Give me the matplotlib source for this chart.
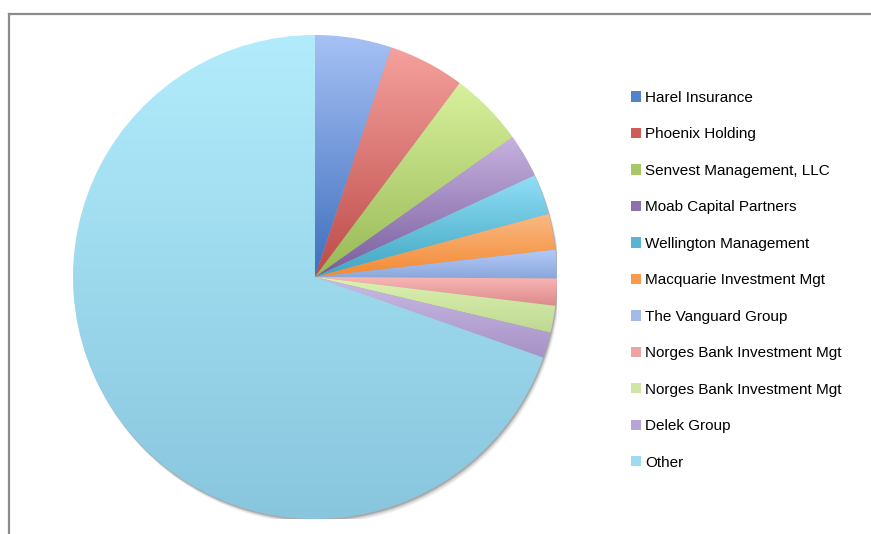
import numpy as np
import matplotlib
matplotlib.use("Agg")
import matplotlib.pyplot as plt
from matplotlib.patches import Patch, Circle
from matplotlib.colors import to_rgb

plt.rcParams['font.family'] = ['Liberation Sans', 'DejaVu Sans']

labels = ["Harel Insurance", "Phoenix Holding", "Senvest Management, LLC",
          "Moab Capital Partners", "Wellington Management", "Macquarie Investment Mgt",
          "The Vanguard Group", "Norges Bank Investment Mgt", "Norges Bank Investment Mgt",
          "Delek Group", "Other"]
values = [5.1, 5.1, 5.0, 2.9, 2.7, 2.4, 1.9, 1.8, 1.8, 1.7, 69.6]

top_colors = ["#a6c1f5", "#f5a19d", "#d8f09c", "#c6b2e0", "#92def6", "#fbba84",
              "#b2caf8", "#f8b6b4", "#dcf2b0", "#cabae4", "#b2ecfc"]
bot_colors = ["#3f6fbd", "#bd4b48", "#97b955", "#785c9c", "#3fa6c2", "#f28a34",
              "#8aa6da", "#dc8a8a", "#bed893", "#a692c6", "#88c6de"]
legend_colors = ["#5282c8", "#cf5c58", "#a6c868", "#8d70ae", "#56b6d0", "#f89a50",
                 "#a2bbe8", "#eda3a3", "#cfe6a4", "#b7a6d5", "#9edbee"]

fig = plt.figure(figsize=(8.71, 5.34), dpi=100)
W, H = 871, 534

# chart frame lines (top and left)
fig.add_artist(plt.Line2D([8.5 / W, 1], [1 - 13.5 / H, 1 - 13.5 / H], color="#8c8c8c", lw=1.6))
fig.add_artist(plt.Line2D([8.5 / W, 8.5 / W], [0, 1 - 13.5 / H], color="#8c8c8c", lw=1.6))

cx, cy, r = 315, 277, 242
ax = fig.add_axes([(cx - r) / W, (H - cy - r) / H, 2 * r / W, 2 * r / H])
ax.set_xlim(-1, 1)
ax.set_ylim(-1, 1)
ax.axis("off")

# soft shadow
for off, a in [(0.020, 0.08), (0.015, 0.12), (0.010, 0.18), (0.006, 0.25)]:
    ax.add_patch(Circle((off * 0.6, -off), 1.0, color="#555555", alpha=a, lw=0, zorder=0))

wedges, _ = ax.pie(values, startangle=90, counterclock=False, radius=1,
                   wedgeprops=dict(linewidth=0))
for w, ct, cb in zip(wedges, top_colors, bot_colors):
    w.set_facecolor("none")
    w.set_zorder(1)
    verts = w.get_patch_transform().transform(w.get_path().vertices)
    x0, y0 = verts.min(axis=0)
    x1, y1 = verts.max(axis=0)
    t = np.linspace(0, 1, 256)[:, None, None]
    img = (1 - t) * np.array(to_rgb(cb))[None, None, :] + t * np.array(to_rgb(ct))[None, None, :]
    im = ax.imshow(img, extent=[x0, x1, y0, y1], origin="lower", aspect="auto",
                   interpolation="bilinear", zorder=1)
    im.set_clip_path(w)
ax.set_xlim(-1, 1)
ax.set_ylim(-1, 1)

handles = [Patch(facecolor=c, edgecolor="none") for c in legend_colors]
fs = 11
fig.legend(handles, labels, loc="upper left", bbox_to_anchor=(631 / W, 1 - 91 / H),
           frameon=False, fontsize=fs, borderpad=0, borderaxespad=0,
           handlelength=0.66, handleheight=0.66, handletextpad=0.28,
           labelspacing=1.47)

fig.savefig("out.png", dpi=100, facecolor="white")
